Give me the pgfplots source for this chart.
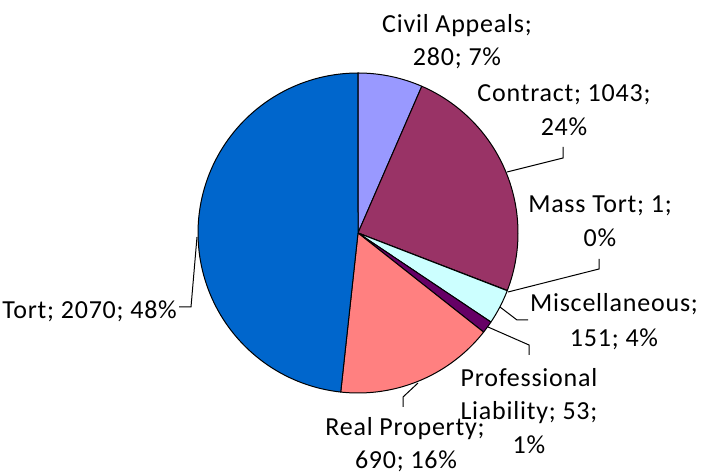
\documentclass[border=0pt]{standalone}
\usepackage{pgfplots}
\pgfplotsset{compat=1.18}
\usepackage{fontspec}
\setmainfont[LetterSpace=3]{Carlito}
\definecolor{cCivil}{HTML}{9999FF}
\definecolor{cContract}{HTML}{993366}
\definecolor{cMass}{HTML}{FFFFCC}
\definecolor{cMisc}{HTML}{CCFFFF}
\definecolor{cProf}{HTML}{660066}
\definecolor{cReal}{HTML}{FF8080}
\definecolor{cTort}{HTML}{0066CC}
\tikzset{
  lbl/.style={anchor=base,inner sep=0pt,font=\fontsize{26bp}{30bp}\selectfont},
  wedge/.style={draw=black,line width=1bp,line join=round,samples=60,variable=\t}}
\begin{document}
\begin{tikzpicture}
% values: Civil Appeals 280, Contract 1043, Mass Tort 1, Miscellaneous 151,
% Professional Liability 53, Real Property 690, Tort 2070
\def\vA{280}\def\vB{1043}\def\vC{1}\def\vD{151}\def\vE{53}\def\vF{690}\def\vG{2070}
\pgfmathsetmacro\total{\vA+\vB+\vC+\vD+\vE+\vF+\vG}
\pgfmathsetmacro\aA{90}
\pgfmathsetmacro\aB{\aA-\vA/\total*360}
\pgfmathsetmacro\aC{\aB-\vB/\total*360}
\pgfmathsetmacro\aD{\aC-\vC/\total*360}
\pgfmathsetmacro\aE{\aD-\vD/\total*360}
\pgfmathsetmacro\aF{\aE-\vE/\total*360}
\pgfmathsetmacro\aG{\aF-\vF/\total*360}
\pgfmathsetmacro\aH{\aG-\vG/\total*360}
\begin{axis}[x=1bp,y=1bp,xmin=0,xmax=702,ymin=0,ymax=475,hide axis,clip=false]
\path (axis cs:0,0) rectangle (axis cs:702,475);
\addplot[wedge,fill=cCivil,domain=\aB:\aA] ({358+160*cos(\t)},{242+160*sin(\t)}) -- (axis cs:358,242) -- cycle;
\addplot[wedge,fill=cContract,domain=\aC:\aB] ({358+160*cos(\t)},{242+160*sin(\t)}) -- (axis cs:358,242) -- cycle;
\addplot[wedge,fill=cMass,samples=2,domain=\aD:\aC] ({358+160*cos(\t)},{242+160*sin(\t)}) -- (axis cs:358,242) -- cycle;
\addplot[wedge,fill=cMisc,domain=\aE:\aD] ({358+160*cos(\t)},{242+160*sin(\t)}) -- (axis cs:358,242) -- cycle;
\addplot[wedge,fill=cProf,samples=10,domain=\aF:\aE] ({358+160*cos(\t)},{242+160*sin(\t)}) -- (axis cs:358,242) -- cycle;
\addplot[wedge,fill=cReal,domain=\aG:\aF] ({358+160*cos(\t)},{242+160*sin(\t)}) -- (axis cs:358,242) -- cycle;
\addplot[wedge,fill=cTort,samples=100,domain=\aH:\aG] ({358+160*cos(\t)},{242+160*sin(\t)}) -- (axis cs:358,242) -- cycle;
% leader lines
\draw[line width=1bp] (axis cs:507,303) -- (axis cs:563,317) -- (axis cs:563,328);
\draw[line width=1bp] (axis cs:508,183) -- (axis cs:599,206) -- (axis cs:599,216);
\draw[line width=1bp] (axis cs:500,168) -- (axis cs:517,155) -- (axis cs:528,155);
\draw[line width=1bp] (axis cs:488,148) -- (axis cs:529,130) -- (axis cs:529,120);
\draw[line width=1bp] (axis cs:418,92) -- (axis cs:403,78) -- (axis cs:403,68);
\draw[line width=1bp] (axis cs:197,238) -- (axis cs:191,168) -- (axis cs:179,168);
% labels
\node[lbl] at (axis cs:457,442) {Civil Appeals;};
\node[lbl] at (axis cs:457,409) {280; 7\%};
\node[lbl] at (axis cs:564,373) {Contract; 1043;};
\node[lbl] at (axis cs:564,339) {24\%};
\node[lbl] at (axis cs:600,262) {Mass Tort; 1;};
\node[lbl] at (axis cs:600,228) {0\%};
\node[lbl] at (axis cs:614,163) {Miscellaneous;};
\node[lbl] at (axis cs:614,128) {151; 4\%};
\node[lbl] at (axis cs:529,88) {Professional};
\node[lbl] at (axis cs:529,55) {Liability; 53;};
\node[lbl] at (axis cs:529,21) {1\%};
\node[lbl] at (axis cs:405,39) {Real Property;};
\node[lbl] at (axis cs:406,6) {690; 16\%};
\node[lbl,anchor=base east] at (axis cs:177,156) {Tort; 2070; 48\%};
\end{axis}
\end{tikzpicture}
\end{document}
